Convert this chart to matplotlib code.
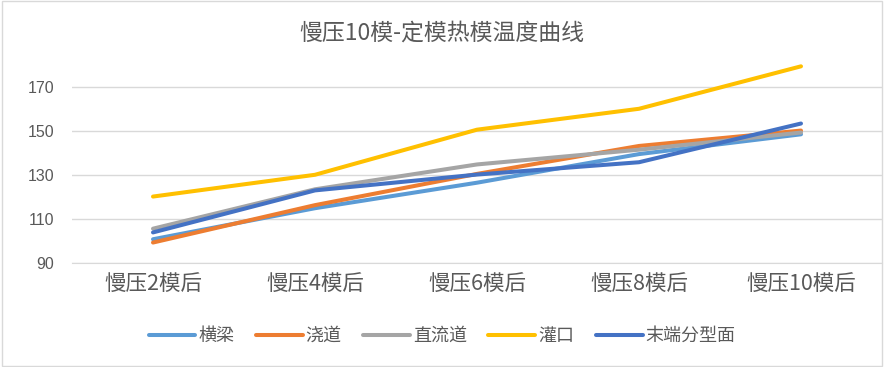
import matplotlib.pyplot as plt
from matplotlib.patches import Rectangle

plt.rcParams['font.family'] = ['Noto Sans CJK SC', 'DejaVu Sans']

# data
categories = ['慢压2模后', '慢压4模后', '慢压6模后', '慢压8模后', '慢压10模后']
hengliang = [100.8, 114.9, 126.5, 139.5, 148.5]
jiaodao = [99.3, 116.3, 130.5, 143.2, 150.2]
zhiliudao = [105.6, 123.5, 134.8, 141.5, 149.3]
guankou = [120.2, 130.1, 150.6, 160.1, 179.4]
moduan = [103.9, 123.0, 130.2, 135.8, 153.4]

series = [
    ('横梁', hengliang, '#5B9BD5'),
    ('浇道', jiaodao, '#ED7D31'),
    ('直流道', zhiliudao, '#A5A5A5'),
    ('灌口', guankou, '#FFC000'),
    ('末端分型面', moduan, '#4472C4'),
]
yticks = [90, 110, 130, 150, 170]

fig = plt.figure(figsize=(8.84, 3.67), dpi=100)
# chart border like excel
fig.patches.append(Rectangle((0.002, 0.003), 0.996, 0.994, transform=fig.transFigure,
                             fill=False, edgecolor='#D9D9D9', linewidth=1))

ax = fig.add_axes([72 / 884, 1 - 263 / 367, 810 / 884, 220 / 367])
x = range(len(categories))
for name, vals, color in series:
    ax.plot(x, vals, color=color, linewidth=2.9, label=name, solid_capstyle='round')

ax.set_xlim(-0.5, len(categories) - 0.5)
ax.set_ylim(90, 190)
ax.set_yticks(yticks)
ax.set_yticklabels([str(v) for v in yticks], family=['Liberation Sans', 'DejaVu Sans'],
                   fontsize=11.5, color='#595959')
ax.set_xticks(list(x))
ax.set_xticklabels(categories, fontsize=15.5, color='#595959')
ax.tick_params(axis='y', length=0, pad=13)
ax.tick_params(axis='x', length=0, pad=7)
ax.grid(axis='y', color='#D9D9D9', linewidth=1)
ax.set_axisbelow(True)
for s in ['top', 'right', 'left']:
    ax.spines[s].set_visible(False)
ax.spines['bottom'].set_color('#D9D9D9')

fig.suptitle('慢压10模-定模热模温度曲线', y=1 - 33 / 367, va='center',
             fontsize=16.5, color='#595959')

fig.legend(loc='center', bbox_to_anchor=(0.5, 1 - 336 / 367), ncol=5, frameon=False,
           fontsize=13, labelcolor='#595959', handlelength=2.6, handletextpad=0.15,
           columnspacing=1.2)

fig.savefig('out.png', dpi=100)
